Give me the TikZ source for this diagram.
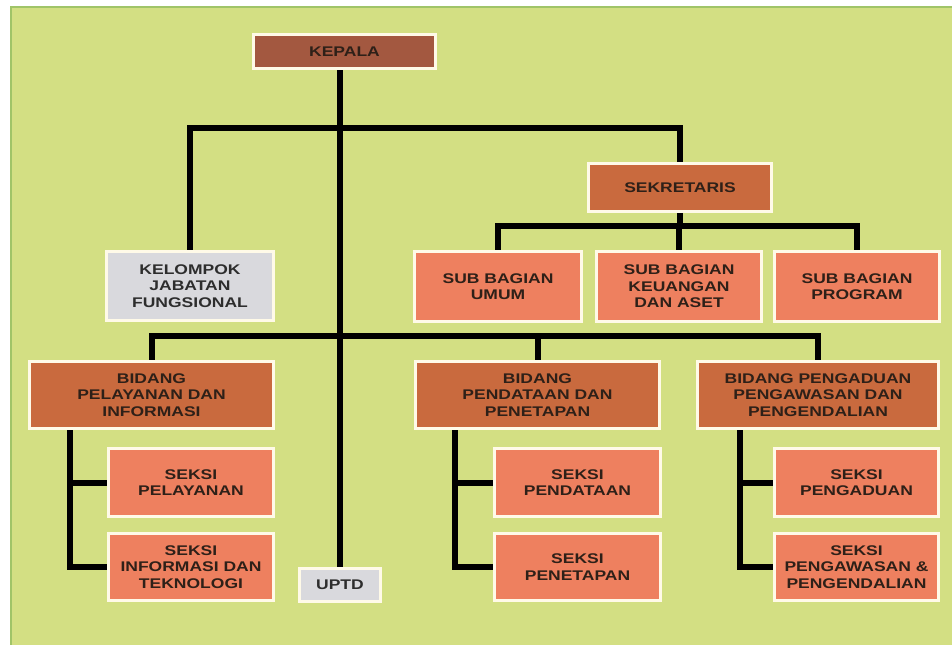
\documentclass[tikz,border=0pt]{standalone}
\usepackage{fontspec}
\setmainfont{Liberation Sans}[FakeStretch=1.25]
\usetikzlibrary{backgrounds}
\definecolor{bg}{RGB}{211,223,131}
\definecolor{bgline}{RGB}{160,196,104}
\definecolor{edgec}{RGB}{255,250,232}
\definecolor{kepc}{RGB}{163,88,64}
\definecolor{bidc}{RGB}{201,106,62}
\definecolor{salc}{RGB}{238,128,95}
\definecolor{grayc}{RGB}{217,217,221}
\definecolor{txt}{RGB}{46,32,24}
\begin{document}
\begin{tikzpicture}[x=1pt,y=-1pt,
  box/.style={draw=edgec, line width=3pt, align=center, inner sep=0pt,
    font=\fontsize{14}{16.5}\selectfont\bfseries, text=txt},
  kep/.style={box, fill=kepc},
  bid/.style={box, fill=bidc},
  sal/.style={box, fill=salc},
  gry/.style={box, fill=grayc, text={rgb,255:red,45;green,45;blue,45}},
  conn/.style={line width=6pt, black, line join=miter}]
\useasboundingbox (0,0) rectangle (952,645);
\begin{scope}[on background layer]
  \fill[white] (0,0) rectangle (952,645);
  \fill[bg] (10,6) rectangle (952,645);
  \fill[bgline] (10,6) rectangle (12,645);
  \fill[bgline] (10,6) rectangle (952,7.5);
\end{scope}

% top
\node[kep, minimum width=182pt, minimum height=34pt] (kepala) at (344.5,51.5) {KEPALA};
\node[bid, minimum width=183pt, minimum height=48pt] (sekretaris) at (680,187.5) {SEKRETARIS};
\node[gry, minimum width=167pt, minimum height=69pt] (kelompok) at (190,286) {KELOMPOK\\JABATAN\\FUNGSIONAL};

% sub bagian
\node[sal, minimum width=167pt, minimum height=70pt] (umum) at (498,286.5) {SUB BAGIAN\\UMUM};
\node[sal, minimum width=165pt, minimum height=70pt] (keuangan) at (679,286.5) {SUB BAGIAN\\KEUANGAN\\DAN ASET};
\node[sal, minimum width=165pt, minimum height=70pt] (program) at (857,286.5) {SUB BAGIAN\\PROGRAM};

% bidang
\node[bid, minimum width=244pt, minimum height=67pt] (pelayanan) at (151.5,395) {BIDANG\\PELAYANAN DAN\\INFORMASI};
\node[bid, minimum width=244pt, minimum height=67pt] (pendataan) at (537.5,395) {BIDANG\\PENDATAAN DAN\\PENETAPAN};
\node[bid, minimum width=241pt, minimum height=67pt] (pengaduan) at (818,395) {BIDANG PENGADUAN\\PENGAWASAN DAN\\PENGENDALIAN};

% seksi
\node[sal, minimum width=165pt, minimum height=68pt] (skpel) at (191,482.5) {SEKSI\\PELAYANAN};
\node[sal, minimum width=165pt, minimum height=67pt] (skinf) at (191,567) {SEKSI\\INFORMASI DAN\\TEKNOLOGI};
\node[sal, minimum width=166pt, minimum height=68pt] (skpend) at (577.5,482.5) {SEKSI\\PENDATAAN};
\node[sal, minimum width=166pt, minimum height=67pt] (skpenet) at (577.5,567) {SEKSI\\PENETAPAN};
\node[sal, minimum width=164pt, minimum height=68pt] (skpeng) at (856.5,482.5) {SEKSI\\PENGADUAN};
\node[sal, minimum width=164pt, minimum height=67pt] (skpengaw) at (856.5,567) {SEKSI\\PENGAWASAN \&\\PENGENDALIAN};

\node[gry, minimum width=81pt, minimum height=33pt] (uptd) at (340,585) {UPTD};

% bus coordinates
\coordinate (busA) at (340,128);
\coordinate (busB) at (680,226);
\coordinate (busC) at (340,336);
\coordinate (lvA) at (70,430);
\coordinate (lvB) at (455,430);
\coordinate (lvC) at (740,430);

\begin{scope}[on background layer]
  \draw[conn] (kepala.south -| uptd.north) -- (uptd.north);
  \draw[conn] (kelompok.north) |- (busA) -| (sekretaris.north);
  \draw[conn] (sekretaris.south) -- (busB);
  \draw[conn] (umum.north) |- (busB) -| (program.north);
  \draw[conn] (keuangan.north) -- (keuangan.north |- busB);
  \draw[conn] (pelayanan.north) |- (busC) -| (pengaduan.north);
  \draw[conn] (pendataan.north) -- (pendataan.north |- busC);
  \draw[conn] (lvA) |- (skinf.west);
  \draw[conn] (lvA |- skpel.west) -- (skpel.west);
  \draw[conn] (lvB) |- (skpenet.west);
  \draw[conn] (lvB |- skpend.west) -- (skpend.west);
  \draw[conn] (lvC) |- (skpengaw.west);
  \draw[conn] (lvC |- skpeng.west) -- (skpeng.west);
\end{scope}
\end{tikzpicture}
\end{document}
